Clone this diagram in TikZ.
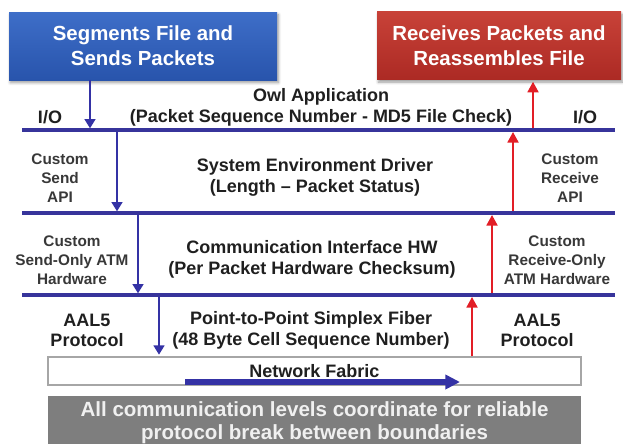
\documentclass[tikz,border=0pt]{standalone}
\usepackage{fontspec}
\setmainfont{Liberation Sans}
\usepackage{xcolor}
\usetikzlibrary{positioning, arrows.meta, calc, shadows.blur}

\definecolor{layerblue}{RGB}{55,52,155}
\definecolor{arrblue}{RGB}{52,50,165}
\definecolor{arrred}{RGB}{226,30,38}
\definecolor{sendtop}{RGB}{62,110,200}
\definecolor{sendblue}{RGB}{40,84,172}
\definecolor{recvtop}{RGB}{200,66,56}
\definecolor{recvred}{RGB}{172,42,36}
\definecolor{notegray}{RGB}{126,126,126}

\begin{document}
\begin{tikzpicture}[
  x=0.75pt, y=-0.75pt,
  headbox/.style={minimum height=51pt, inner sep=0pt, align=center, text=white,
    font=\fontsize{15.3}{18.7}\selectfont\bfseries,
    blur shadow={shadow xshift=1pt, shadow yshift=-2pt, shadow blur steps=5}},
  sendbox/.style={headbox, top color=sendtop, bottom color=sendblue, minimum width=201pt},
  recvbox/.style={headbox, top color=recvtop, bottom color=recvred, minimum width=183pt},
  layertext/.style={align=center, text=black!88, font=\fontsize{13.5}{15.6}\selectfont\bfseries},
  sidetext/.style={align=center, text=black!78, font=\fontsize{11.5}{14.2}\selectfont\bfseries},
  protext/.style={align=center, text=black!88, font=\fontsize{13.5}{15}\selectfont\bfseries},
  layer/.style={line width=3pt, draw=layerblue},
  sendarr/.style={-{Triangle[width=8pt,length=7pt]}, line width=2pt, draw=arrblue, shorten >=1.2pt},
  recvarr/.style={-{Triangle[width=8pt,length=8pt]}, line width=2.2pt, draw=arrred, shorten >=1.4pt},
  fabarr/.style={-{Triangle[width=10.5pt,length=11pt]}, line width=3.8pt, draw=arrblue},
  fabricbox/.style={draw=black!35, line width=1pt, fill=white, minimum width=399.75pt,
    minimum height=21pt, inner sep=0pt, text=black!88, font=\fontsize{13.5}{15}\selectfont\bfseries},
  notebox/.style={fill=notegray, text=black!6, minimum width=399.75pt, minimum height=39.75pt,
    inner sep=0pt, align=center, font=\fontsize{15.4}{17.3}\selectfont\bfseries},
]
\useasboundingbox (0,0) rectangle (623,443);
\clip (0,0) rectangle (623,443);

% === Sender / receiver ends ===
\node[sendbox] (segbox) at (143,46) {Segments File and\\Sends Packets};
\node[recvbox] (recvbox) at (499,45.5) {Receives Packets and\\Reassembles File};

% === Layer labels ===
\node[layertext] (owl) at (321,107) {Owl Application\\(Packet Sequence Number - MD5 File Check)};
\node[layertext] (sysenv) at (315,177) {System Environment Driver\\(Length -- Packet Status)};
\node[layertext] (comm) at (312,259) {Communication Interface HW\\(Per Packet Hardware Checksum)};
\node[layertext] (fiber) at (311,330) {Point-to-Point Simplex Fiber\\(48 Byte Cell Sequence Number)};

% side labels, send side left, receive side right
\node[protext] (iol) at (50,117) {I/O};
\node[protext] (ior) at (585,117) {I/O};
\node[sidetext] (sendapi) at (60,178) {Custom\\Send\\API};
\node[sidetext] (recvapi) at (570,178) {Custom\\Receive\\API};
\node[sidetext] (sendhw) at (72,260) {Custom\\Send-Only ATM\\Hardware};
\node[sidetext] (recvhw) at (557,260) {Custom\\Receive-Only\\ATM Hardware};
\node[protext] (aall) at (87,330) {AAL5\\Protocol};
\node[protext] (aalr) at (537,330) {AAL5\\Protocol};

% === Network fabric and note ===
\node[fabricbox] (fabric) at (314.5,371) {Network Fabric};
\coordinate (fa) at (185,382);
\coordinate (fb) at (460,382);
\draw[fabarr] (fa) -- (fb);

\node[notebox, below=7.5pt of fabric] (note)
  {All communication levels coordinate for reliable\\protocol break between boundaries};

% === Layer boundaries ===
\foreach \n/\y in {l1/130, l2/213, l3/295} {
  \coordinate (\n w) at (22,\y);
  \coordinate (\n e) at (615,\y);
}

% arrow columns
\foreach \n/\x in {s1/90, s2/117, s3/138, s4/159, r1/533, r2/513, r3/492, r4/472}
  \coordinate (\n) at (\x,0);

% send path (down)
\draw[sendarr] (segbox.south -| s1) -- (s1 |- l1w);
\draw[sendarr] (s2 |- l1w) -- (s2 |- l2w);
\draw[sendarr] (s3 |- l2w) -- (s3 |- l3w);
\draw[sendarr] (s4 |- l3w) -- (s4 |- fabric.north);

% receive path (up)
\draw[recvarr] (r4 |- fabric.north) -- (r4 |- l3w);
\draw[recvarr] (r3 |- l3w) -- (r3 |- l2w);
\draw[recvarr] (r2 |- l2w) -- (r2 |- l1w);
\draw[recvarr] (r1 |- l1w) -- (recvbox.south -| r1);

\foreach \n in {l1, l2, l3}
  \draw[layer] (\n w) -- (\n e);

\end{tikzpicture}
\end{document}
